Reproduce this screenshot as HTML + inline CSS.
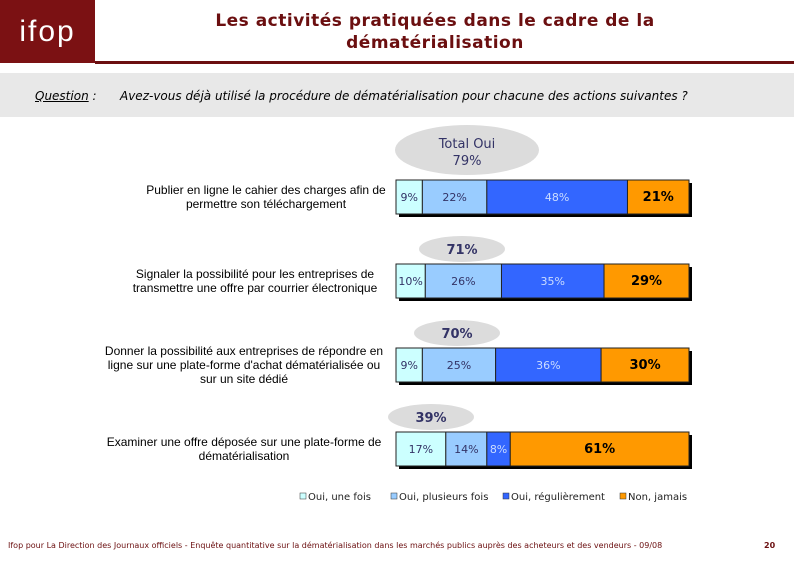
<!DOCTYPE html>
<html><head><meta charset="utf-8"><style>
body{margin:0;width:794px;height:567px;background:#fff;overflow:hidden;font-family:"DejaVu Sans","Liberation Sans",sans-serif;position:relative}
div{position:absolute}
</style></head><body>
<div style="left:0;top:0;width:95px;height:63px;background:#7b1113;color:#fff;font-size:30px;line-height:63px;text-align:center;letter-spacing:2px;font-family:'Liberation Sans',sans-serif;font-weight:300">ifop</div>
<div style="left:95px;top:61px;width:699px;height:3px;background:#6b0f10"></div>
<div style="left:100px;top:10px;width:670px;text-align:center;color:#6b0f10;font-weight:bold;font-size:17px;line-height:22px;letter-spacing:0.5px">Les activités pratiquées dans le cadre de la<br>dématérialisation</div>
<div style="left:0;top:73px;width:794px;height:44px;background:#e8e8e8"></div>
<div style="left:35px;top:89px;font-size:12px;font-style:italic"><u>Question</u> :</div>
<div style="left:120px;top:89px;font-size:12px;font-style:italic">Avez-vous déjà utilisé la procédure de dématérialisation pour chacune des actions suivantes ?</div>
<svg id="chart" width="794" height="567" style="position:absolute;left:0;top:0"></svg>
<div style="left:8px;top:541px;font-size:8px;color:#6b0f10">Ifop pour La Direction des Journaux officiels - Enquête quantitative sur la dématérialisation dans les marchés publics auprès des acheteurs et des vendeurs - 09/08</div>
<div style="left:764px;top:541px;font-size:8px;color:#6b0f10;font-weight:bold">20</div>
<script>
const categories=[["Publier en ligne le cahier des charges afin de","permettre son téléchargement"],["Signaler la possibilité pour les entreprises de","transmettre une offre par courrier électronique"],["Donner la possibilité aux entreprises de répondre en","ligne sur une plate-forme d'achat dématérialisée ou","sur un site dédié"],["Examiner une offre déposée sur une plate-forme de","dématérialisation"]];
const s1=[9,10,9,17];
const s2=[22,26,25,14];
const s3=[48,35,36,8];
const s4=[21,29,30,61];
const totals=["79%","71%","70%","39%"];
const seriesNames=["Oui, une fois","Oui, plusieurs fois","Oui, régulièrement","Non, jamais"];
const NS="http://www.w3.org/2000/svg",svg=document.getElementById('chart');
const colors=["#ccffff","#99ccff","#3366ff","#ff9900"];
const textCol=["#333366","#333366","#ccddff","#000"];
const x0=396,W=293,barTops=[180,264,348,432],bh=34;
const labelCx=[266,255,244,244];
const xs=v=>v/100*W;
function el(t,a){const e=document.createElementNS(NS,t);for(const k in a)e.setAttribute(k,a[k]);svg.appendChild(e);return e;}
const series=[s1,s2,s3,s4];
categories.forEach((c,i)=>{
 const y=barTops[i];
 let sh=el('rect',{x:x0+3,y:y+3,width:W,height:bh,fill:'#000'});
 
 let x=x0;
 series.forEach((s,j)=>{
  const w=xs(s[i]);
  const r=el('rect',{x:x,y:y,width:w,height:bh,fill:colors[j],stroke:'#222','stroke-width':1});
  
  
  const t=el('text',{x:x+w/2,y:y+bh/2+4,'text-anchor':'middle','font-size':j==3?13:11,'font-weight':j==3?'bold':'normal',fill:textCol[j],'font-family':'DejaVu Sans,sans-serif'});
  t.textContent=s[i]+'%';
  
  
  x+=w;
 });
 const lines=c,ly=y+bh/2-(lines.length-1)*7+4;
 lines.forEach((l,k)=>{const t=el('text',{x:labelCx[i],y:ly+k*14,'text-anchor':'middle','font-size':12,fill:'#000','font-family':'Liberation Sans,sans-serif'});t.textContent=l;
 });
 const cx=[467,462,457,431][i],cy=i==0?150:y-15;
 const e=el('ellipse',{cx:cx,cy:cy,rx:i==0?72:43,ry:i==0?25:13,fill:'#dcdcdc'});
 
 if(i==0){const t=el('text',{x:cx,y:148,'text-anchor':'middle','font-size':13,fill:'#333366'});t.textContent='Total Oui';
 }
 const t=el('text',{x:cx,y:i==0?165:cy+5,'text-anchor':'middle','font-size':13,'font-weight':i==0?'normal':'bold',fill:'#333366'});t.textContent=totals[i];
 
});
const lx=[300,391,503,620];
seriesNames.forEach((n,j)=>{
 const r=el('rect',{x:lx[j],y:493,width:6,height:6,fill:colors[j],stroke:'#333','stroke-width':0.5});
 
 const t=el('text',{x:lx[j]+8,y:500,'font-size':10,fill:'#222','font-family':'DejaVu Sans,sans-serif'});t.textContent=n;
 
});
</script>
</body></html>
